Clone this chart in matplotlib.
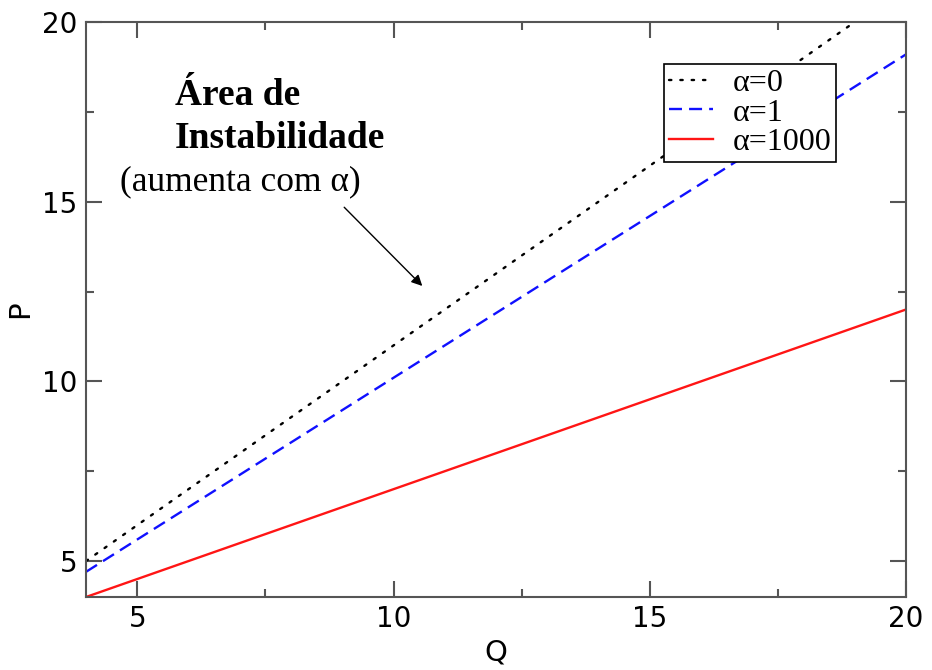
import matplotlib
matplotlib.use("Agg")
import matplotlib.pyplot as plt
from matplotlib.ticker import MultipleLocator

Q = [4, 20]
P_alpha0 = [5, 21]
P_alpha1 = [4.7, 19.1]
P_alpha1000 = [4, 12]
labels = ["α=0", "α=1", "α=1000"]
xticks = [5, 10, 15, 20]
yticks = [5, 10, 15, 20]

W, H = 932, 670
fig = plt.figure(figsize=(W/100, H/100), dpi=100)
ax = fig.add_axes([86/W, 1-597/H, (906-86)/W, (597-22)/H])

ax.plot(Q, P_alpha0, color="black", linestyle=(0, (1, 3.8)), linewidth=1.7,
        dash_capstyle="round", label=labels[0])
ax.plot(Q, P_alpha1, color="#1010ff", linestyle=(0, (5.5, 3)), linewidth=1.7, label=labels[1])
ax.plot(Q, P_alpha1000, color="#ff1515", linestyle="-", linewidth=1.7, label=labels[2])

ax.set_xlim(4, 20)
ax.set_ylim(4, 20)
ax.set_xticks(xticks)
ax.set_yticks(yticks)
ax.xaxis.set_minor_locator(MultipleLocator(2.5))
ax.yaxis.set_minor_locator(MultipleLocator(2.5))
ax.tick_params(which="both", direction="in", top=True, right=True, color="#555555", width=1.5)
ax.tick_params(which="major", length=11.5, labelsize=20, pad=6)
ax.tick_params(which="minor", length=5.8)
for s in ax.spines.values():
    s.set_color("#555555")
    s.set_linewidth(1.5)

ax.set_xlabel("Q", fontsize=21, labelpad=4)
ax.set_ylabel("P", fontsize=21, labelpad=6)

leg = ax.legend(loc="upper right", bbox_to_anchor=(836/W, 1-64/H), bbox_transform=fig.transFigure,
                prop={"family": "Liberation Serif", "size": 23}, frameon=True, fancybox=False,
                edgecolor="black", handlelength=1.4, handletextpad=0.6, borderpad=0.15,
                labelspacing=0.0, borderaxespad=0, framealpha=1)
leg.get_frame().set_linewidth(1.2)

fig.text(175/W, 1-105/H, "Área de", fontfamily="Liberation Serif", fontweight="bold",
         fontsize=27, ha="left", va="baseline")
fig.text(175/W, 1-148/H, "Instabilidade", fontfamily="Liberation Serif", fontweight="bold",
         fontsize=27, ha="left", va="baseline")
fig.text(120/W, 1-190/H, "(aumenta com α)", fontfamily="Liberation Serif", fontsize=25.5,
         ha="left", va="baseline")
ax.annotate("", xy=(10.6, 12.6), xytext=(9.0, 14.9),
            arrowprops=dict(arrowstyle="-|>", color="black", lw=1.0, mutation_scale=16))

fig.savefig("out.png", dpi=100)
